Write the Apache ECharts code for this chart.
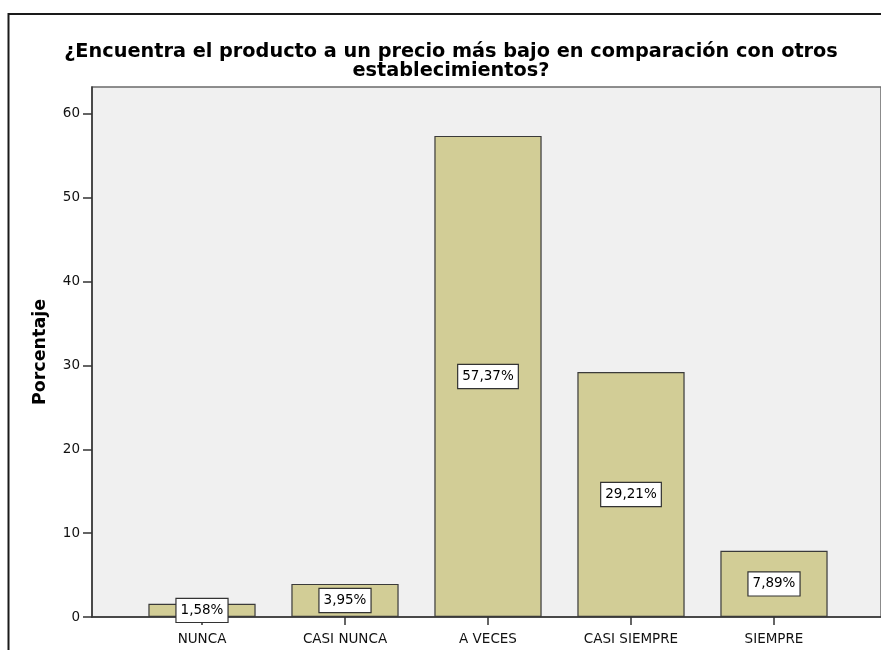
<!DOCTYPE html>
<html>
<head>
<meta charset="utf-8">
<script src="https://cdn.jsdelivr.net/npm/echarts@6/dist/echarts.min.js"></script>
<style>
  html, body { margin: 0; padding: 0; background: #fff; }
  #chart { width: 881px; height: 650px; }
</style>
</head>
<body>
<div id="chart"></div>
<script>
// Respuestas a la pregunta sobre precios frente a otros establecimientos
const categories = ['NUNCA', 'CASI NUNCA', 'A VECES', 'CASI SIEMPRE', 'SIEMPRE'];
const percentages = [1.58, 3.95, 57.37, 29.21, 7.89];
const yTicks = [0, 10, 20, 30, 40, 50, 60];

const titleText = '¿Encuentra el producto a un precio más bajo en comparación con otros\nestablecimientos?';
const yAxisName = 'Porcentaje';

const FONT = 'DejaVu Sans';
const Y_MAX = 63.2;
const PLOT_TOP = 87;
const PLOT_BOTTOM = 33;

const chart = echarts.init(document.getElementById('chart'), null, { renderer: 'canvas' });

const fmtPct = v => v.toFixed(2).replace('.', ',') + '%';

chart.setOption({
  animation: false,
  backgroundColor: '#ffffff',
  title: {
    text: titleText,
    left: 451,
    top: 42,
    textAlign: 'center',
    padding: 0,
    textStyle: {
      fontFamily: FONT,
      fontWeight: 'bold',
      fontSize: 19.3,
      lineHeight: 19,
      color: '#000'
    }
  },
  graphic: [{
    // outer frame of the chart
    type: 'rect',
    z: 100,
    silent: true,
    shape: { x: 8.5, y: 14, width: 900, height: 700 },
    style: { fill: 'none', stroke: '#1a1a1a', lineWidth: 2 }
  }],
  grid: [
    // plot background + value axis
    {
      left: 92, top: PLOT_TOP, right: -20, bottom: PLOT_BOTTOM,
      show: true, backgroundColor: '#F0F0F0',
      borderColor: '#6a6a6a', borderWidth: 1.5
    },
    // bars
    {
      left: 130.5, top: PLOT_TOP, width: 715, bottom: PLOT_BOTTOM
    }
  ],
  xAxis: [
    {
      gridIndex: 0, type: 'value', min: 0, max: 1,
      axisLine: { show: true, onZero: false, lineStyle: { color: '#333', width: 1.5 } },
      axisTick: { show: false }, axisLabel: { show: false }, splitLine: { show: false }
    },
    {
      gridIndex: 1, type: 'category', data: categories,
      axisLine: { show: false },
      axisTick: { show: true, alignWithLabel: true, length: 8, lineStyle: { color: '#333', width: 1.5 } },
      axisLabel: { fontFamily: FONT, fontSize: 13.5, color: '#111', margin: 15 },
      splitLine: { show: false }
    }
  ],
  yAxis: [
    {
      gridIndex: 0, type: 'value', min: 0, max: Y_MAX,
      name: yAxisName, nameLocation: 'middle', nameRotate: 90, nameGap: 43,
      nameTextStyle: { fontFamily: FONT, fontWeight: 'bold', fontSize: 17.5, color: '#000' },
      axisLine: { show: true, lineStyle: { color: '#333', width: 1.5 } },
      axisTick: { show: true, length: 9, customValues: yTicks, lineStyle: { color: '#333', width: 1.5 } },
      axisLabel: { fontFamily: FONT, fontSize: 13.5, color: '#111', margin: 12, customValues: yTicks },
      splitLine: { show: false }
    },
    {
      gridIndex: 1, type: 'value', min: 0, max: Y_MAX, show: false
    }
  ],
  series: [{
    type: 'bar',
    xAxisIndex: 1, yAxisIndex: 1,
    data: percentages,
    barWidth: '75%',
    itemStyle: { color: '#D2CD96', borderColor: '#3a3a3a', borderWidth: 1.2 },
    label: {
      show: true,
      position: 'inside',
      formatter: p => fmtPct(p.value),
      fontFamily: FONT, fontSize: 13.5, lineHeight: 16, color: '#000',
      backgroundColor: '#ffffff', borderColor: '#333', borderWidth: 1.2,
      padding: [4, 4, 3, 4]
    }
  }]
});
</script>
</body>
</html>
